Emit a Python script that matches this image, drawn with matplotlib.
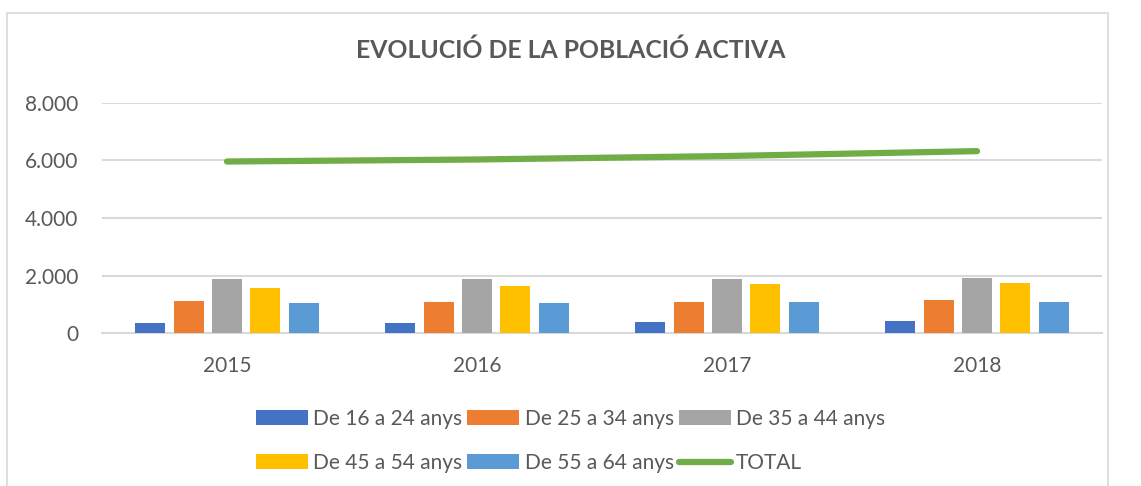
import matplotlib.pyplot as plt
import numpy as np
from matplotlib.patches import Rectangle
from matplotlib.ticker import FuncFormatter

plt.rcParams['font.family'] = ['Lato', 'DejaVu Sans']

years = ['2015', '2016', '2017', '2018']
groups = ['De 16 a 24 anys', 'De 25 a 34 anys', 'De 35 a 44 anys',
          'De 45 a 54 anys', 'De 55 a 64 anys']
v_16_24 = [347, 368, 392, 427]
v_25_34 = [1121, 1087, 1097, 1146]
v_35_44 = [1885, 1885, 1875, 1930]
v_45_54 = [1573, 1642, 1722, 1746]
v_55_64 = [1042, 1042, 1076, 1087]
total = [5960, 6030, 6150, 6320]

colors = ['#4472C4', '#ED7D31', '#A5A5A5', '#FFC000', '#5B9BD5']
green = '#70AD47'
txt = '#595959'
grid = '#D9D9D9'

W, H = 1141, 486
fig = plt.figure(figsize=(W / 100, H / 100), dpi=100)
ax = fig.add_axes([102 / W, 1 - 333.3 / H, 1000 / W, (333.3 - 102.7) / H])

# chart frame
fig.add_artist(Rectangle((7 / W, -0.05), 1101 / W, 1 - 13 / H + 0.05,
                         transform=fig.transFigure, fill=False,
                         edgecolor=grid, lw=1.2))

x = np.arange(len(years))
step = 38.3 / 250
bw = 30 / 250
series = [v_16_24, v_25_34, v_35_44, v_45_54, v_55_64]
handles = []
for i, (vals, c, lab) in enumerate(zip(series, colors, groups)):
    b = ax.bar(x + (i - 2) * step, vals, bw, color=c, label=lab, zorder=3)
    handles.append(b)

ln, = ax.plot(x, total, color=green, lw=4.5, solid_capstyle='round',
              label='TOTAL', zorder=4)
handles.append(ln)

ax.set_xlim(-0.5, 3.5)
ax.set_ylim(0, 8000)
ax.set_yticks([0, 2000, 4000, 6000, 8000])
ax.yaxis.set_major_formatter(FuncFormatter(lambda v, p: f'{int(v):,}'.replace(',', '.')))
ax.set_xticks(x)
ax.set_xticklabels(years)
ax.grid(axis='y', color=grid, lw=1.5, zorder=0)
for s in ['top', 'right', 'left']:
    ax.spines[s].set_visible(False)
ax.spines['bottom'].set_color(grid)
ax.spines['bottom'].set_linewidth(1.5)
ax.tick_params(axis='both', length=0, colors=txt, labelsize=15)
ax.tick_params(axis='y', pad=17)
ax.tick_params(axis='x', pad=16)

fig.text(0.5, 1 - 50 / H, 'EVOLUCIÓ DE LA POBLACIÓ ACTIVA', ha='center',
         va='center', fontsize=17.8, fontweight='bold', color=txt)

# excel fills legend row by row, matplotlib column by column
order = [0, 3, 1, 4, 2, 5]
leg = fig.legend([handles[i] for i in order],
                 [handles[i].get_label() for i in order],
                 ncol=3, loc='center', bbox_to_anchor=(0.5, 1 - 441 / H),
                 frameon=False, fontsize=15, handlelength=2.5,
                 handleheight=0.7, handletextpad=0.25, columnspacing=0.25,
                 labelspacing=1.15)
for t in leg.get_texts():
    t.set_color(txt)

fig.savefig('out.png', dpi=100)
